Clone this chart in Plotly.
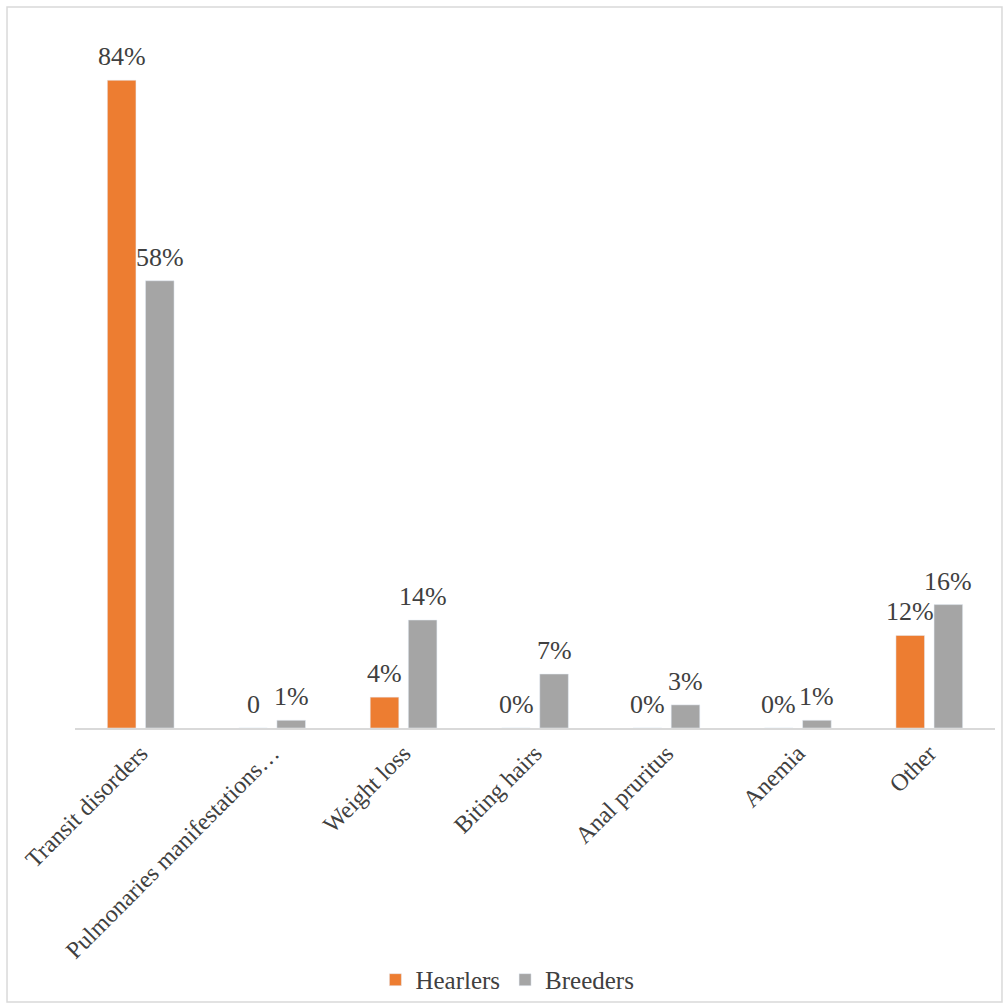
import plotly.graph_objects as go

# Clinical signs reported, share of respondents (%)
categories = ["Transit disorders", "Pulmonaries manifestations…", "Weight loss",
              "Biting hairs", "Anal pruritus", "Anemia", "Other"]
hearlers = [84, 0, 4, 0, 0, 0, 12]
breeders = [58, 1, 14, 7, 3, 1, 16]
hearlers_labels = ["84%", "0", "4%", "0%", "0%", "0%", "12%"]
breeders_labels = ["58%", "1%", "14%", "7%", "3%", "1%", "16%"]

FONT = "Liberation Serif, Times New Roman, serif"
TEXT_COLOR = "#404040"
ORANGE = "#ED7D31"
GRAY = "#A5A5A5"

fig = go.Figure()
fig.add_trace(go.Bar(name="Hearlers", x=categories, y=hearlers, marker_color=ORANGE))
fig.add_trace(go.Bar(name="Breeders", x=categories, y=breeders, marker_color=GRAY))

# Value labels above each bar (left bar of the pair = Hearlers, right = Breeders)
annotations = []
for values, labels, shift in ((hearlers, hearlers_labels, -19), (breeders, breeders_labels, 19)):
    for cat, val, lab in zip(categories, values, labels):
        annotations.append(dict(
            x=cat, y=val, xref="x", yref="y", text=lab, showarrow=False,
            xanchor="center", yanchor="bottom", xshift=shift, yshift=7,
            font=dict(family=FONT, size=26, color=TEXT_COLOR),
        ))

fig.update_layout(
    width=1005, height=1008,
    margin=dict(l=75, r=10, t=34, b=280, autoexpand=False),
    plot_bgcolor="white", paper_bgcolor="white",
    barmode="group", bargap=0.42, bargroupgap=0.25,
    font=dict(family=FONT, size=24, color=TEXT_COLOR),
    showlegend=True,
    legend=dict(orientation="h", x=0.47, xanchor="center", y=-0.363, yanchor="middle",
                font=dict(family=FONT, size=25, color=TEXT_COLOR),
                bgcolor="rgba(0,0,0,0)", itemwidth=30, traceorder="normal"),
    annotations=annotations,
    shapes=[dict(type="rect", xref="paper", yref="paper",
                 x0=-0.0739, x1=1.0076, y0=-0.3948, y1=1.0389,
                 line=dict(color="#d9d9d9", width=1.5), fillcolor="rgba(0,0,0,0)")],
)
fig.update_xaxes(showline=True, linecolor="#d9d9d9", linewidth=1.5, tickangle=-45,
                 ticks="", showgrid=False, automargin=False,
                 tickfont=dict(family=FONT, size=24, color=TEXT_COLOR))
fig.update_yaxes(visible=False, range=[0, 90], showgrid=False, zeroline=False)

fig.write_html("out.html")
